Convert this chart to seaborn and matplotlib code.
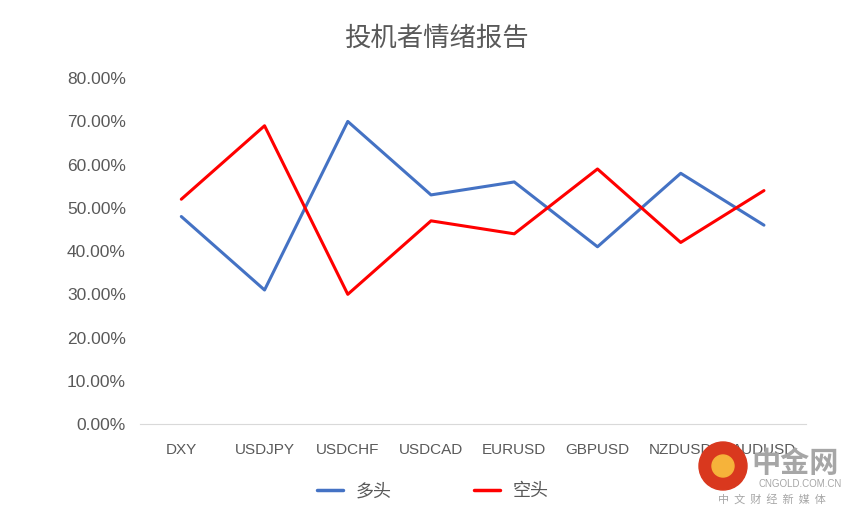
import matplotlib
matplotlib.use("Agg")
import matplotlib.pyplot as plt
import seaborn as sns
import pandas as pd
from matplotlib.ticker import FuncFormatter
from matplotlib.patches import Ellipse
from matplotlib.lines import Line2D

categories = ["DXY", "USDJPY", "USDCHF", "USDCAD", "EURUSD", "GBPUSD", "NZDUSD", "AUDUSD"]
long_vals = [48, 31, 70, 53, 56, 41, 58, 46]
short_vals = [52, 69, 30, 47, 44, 59, 42, 54]
series_names = ["多头", "空头"]
colors = ["#4472C4", "#FF0000"]

sns.set_theme(style="white")
plt.rcParams['font.family'] = ['Noto Sans CJK SC', 'DejaVu Sans']

df = pd.DataFrame({
    "cat": categories * 2,
    "x": list(range(len(categories))) * 2,
    "val": long_vals + short_vals,
    "series": [series_names[0]] * len(categories) + [series_names[1]] * len(categories),
})

W, H = 857, 518
fig = plt.figure(figsize=(W / 100, H / 100), dpi=100)
ax = fig.add_axes([0.163, 0.1815, 0.777, 0.6675])
sns.lineplot(data=df, x="x", y="val", hue="series", palette=colors, linewidth=2.2,
             ax=ax, legend=False, sort=False)

ax.set_xlim(-0.5, len(categories) - 0.5)
ax.set_ylim(0, 80)
ax.set_yticks(range(0, 81, 10))
ax.yaxis.set_major_formatter(FuncFormatter(lambda v, p: f"{v:.2f}%"))
ax.set_xticks(range(len(categories)))
ax.set_xticklabels(categories)
ax.set_xlabel("")
ax.set_ylabel("")
for s in ["top", "right", "left"]:
    ax.spines[s].set_visible(False)
ax.spines["bottom"].set_color("#D9D9D9")
ax.spines["bottom"].set_linewidth(0.8)
ax.tick_params(axis="both", length=0, colors="#595959")
ax.tick_params(axis="y", pad=10, labelsize=12.5)
ax.tick_params(axis="x", pad=14, labelsize=11)
for lbl in ax.get_xticklabels() + ax.get_yticklabels():
    lbl.set_family(['Liberation Sans', 'DejaVu Sans'])

fig.text(0.509, 0.927, "投机者情绪报告", ha="center", va="center", fontsize=19, color="#595959")

handles = [Line2D([0], [0], color=c, lw=2.5) for c in colors]
leg = fig.legend(handles, series_names, loc="center", bbox_to_anchor=(0.505, 0.052), ncol=2,
                 frameon=False, fontsize=13, columnspacing=4.6, handlelength=1.4, handletextpad=0.7)
for t in leg.get_texts():
    t.set_color("#595959")

# watermark
cx, cy, r = 723 / W, 1 - 466 / H, 24
fig.patches.append(Ellipse((cx, cy), 2 * r / W, 2 * r / H, transform=fig.transFigure,
                           color="#D9381E", zorder=5))
fig.patches.append(Ellipse((cx, cy), 2 * 11 / W, 2 * 11 / H, transform=fig.transFigure,
                           color="#F6B33A", zorder=6))
fig.text(795 / W, 1 - 463 / H, "中金网", ha="center", va="center", fontsize=21, color="#A6A6A6",
         weight="bold", zorder=7)
fig.text(800 / W, 1 - 484 / H, "CNGOLD.COM.CN", ha="center", va="center", fontsize=7, color="#A6A6A6",
         family=['Liberation Sans', 'DejaVu Sans'])
fig.text(772 / W, 1 - 499 / H, "中  文  财  经  新  媒  体", ha="center", va="center", fontsize=8,
         color="#A6A6A6")

fig.savefig("out.png", dpi=100)
